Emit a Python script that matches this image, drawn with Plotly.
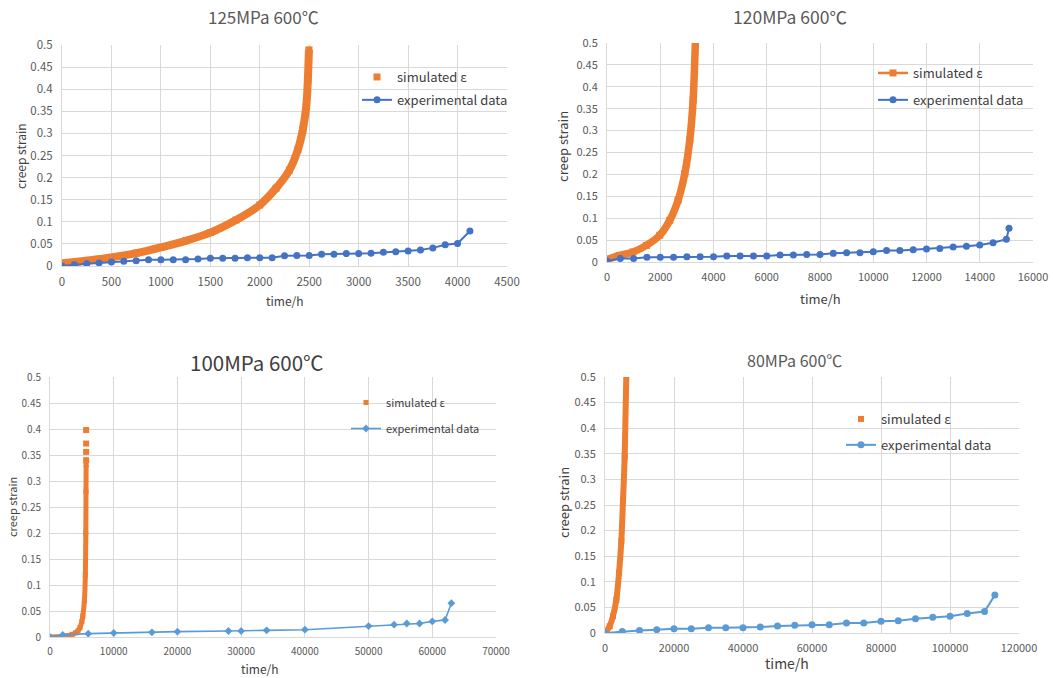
import plotly.graph_objects as go

# ---------------- data ----------------
sim125_t = [0, 243, 500, 750, 1000, 1250, 1500, 1760, 2000, 2165, 2300, 2385, 2435, 2470, 2486, 2497]
sim125_e = [0.006, 0.012, 0.0196, 0.029, 0.042, 0.057, 0.0755, 0.104, 0.138, 0.176, 0.217, 0.263, 0.308, 0.361, 0.42, 0.489]
exp125_t = [0, 125, 250, 375, 500, 625, 750, 875, 1000, 1125, 1250, 1375, 1500, 1625, 1750, 1875, 2000,
            2125, 2250, 2375, 2500, 2625, 2750, 2875, 3000, 3125, 3250, 3375, 3500, 3625, 3750, 3875, 4000, 4125]
exp125_e = [0.0, 0.003, 0.005, 0.007, 0.009, 0.0106, 0.012, 0.0143, 0.0143, 0.0143, 0.0143, 0.0158, 0.0173,
            0.0173, 0.0173, 0.0189, 0.0189, 0.0189, 0.0234, 0.024, 0.024, 0.0264, 0.0264, 0.028, 0.028, 0.029,
            0.031, 0.032, 0.034, 0.036, 0.041, 0.048, 0.051, 0.079]

sim120_t = [0, 476, 978, 1480, 1981, 2357, 2670, 2922, 3110, 3235, 3323]
sim120_e = [0.006, 0.015, 0.023, 0.038, 0.061, 0.095, 0.141, 0.202, 0.279, 0.37, 0.508]
exp120_t = [0, 500, 1000, 1500, 2000, 2500, 3000, 3500, 4000, 4500, 5000, 5500, 6000, 6500, 7000, 7500,
            8000, 8500, 9000, 9500, 10000, 10500, 11000, 11500, 12000, 12500, 13000, 13500, 14000, 14500,
            15000, 15100]
exp120_e = [0.002, 0.008, 0.008, 0.0106, 0.0106, 0.0106, 0.012, 0.012, 0.012, 0.0136, 0.0136, 0.0136, 0.0136,
            0.016, 0.016, 0.0174, 0.0174, 0.0197, 0.021, 0.021, 0.0235, 0.026, 0.026, 0.028, 0.0296, 0.031,
            0.034, 0.036, 0.0387, 0.044, 0.052, 0.077]

sim100_t = [0, 1000, 2000, 2500, 3000, 3500, 4000, 4400, 4700, 5000, 5150, 5400, 5550, 5620, 5650, 5670]
sim100_e = [0.0, 0.0, 0.001, 0.002, 0.003, 0.005, 0.008, 0.012, 0.018, 0.03, 0.04, 0.07, 0.12, 0.2, 0.28, 0.331]
sim100_top_t = [5670, 5670, 5670, 5670]
sim100_top_e = [0.34, 0.356, 0.372, 0.398]
exp100_t = [0, 2000, 6000, 10000, 16000, 20000, 28000, 30000, 34000, 40000, 50000, 54000, 56000, 58000,
            60000, 62000, 63000]
exp100_e = [0.0, 0.004, 0.0064, 0.0077, 0.009, 0.0103, 0.0115, 0.0115, 0.0128, 0.014, 0.021, 0.0237, 0.026,
            0.026, 0.030, 0.0327, 0.065]

sim80_t = [0, 1350, 2320, 3290, 4070, 4740, 5230, 5710, 6200]
sim80_e = [0.0, 0.013, 0.033, 0.065, 0.117, 0.18, 0.26, 0.345, 0.51]
exp80_t = [0, 5000, 10000, 15000, 20000, 25000, 30000, 35000, 40000, 45000, 50000, 55000, 60000, 65000,
           70000, 75000, 80000, 85000, 90000, 95000, 100000, 105000, 110000, 113000]
exp80_e = [0.0, 0.003, 0.005, 0.0065, 0.0085, 0.0085, 0.0104, 0.0104, 0.0104, 0.0117, 0.0137, 0.015, 0.0163,
           0.0163, 0.0195, 0.0195, 0.0228, 0.024, 0.028, 0.031, 0.0326, 0.038, 0.042, 0.074]

titles = ["125MPa 600℃", "120MPa 600℃", "100MPa 600℃", "80MPa 600℃"]
x_ranges = [[0, 4500], [0, 16000], [0, 70000], [0, 120000]]
x_dticks = [500, 2000, 10000, 20000]

ORANGE = "#ED7D31"
BLUE1 = "#4472C4"
BLUE2 = "#5B9BD5"
GRID = "#D9D9D9"
TXT = "#595959"
FONT = "Noto Sans CJK SC, Noto Sans, sans-serif"

W, H = 1053, 678

def px_x(p):
    return p / W

def px_y(p):
    return 1 - p / H

# plot areas in pixels: (left, right, top, bottom)
areas = [(62, 507, 45, 266), (607, 1033, 43, 262), (50, 496, 377, 637), (605, 1019, 377, 633)]
tick_sizes = [11.5, 11, 10, 11]

fig = go.Figure()

panels = [
    (sim125_t, sim125_e, exp125_t, exp125_e, BLUE1, "circle", 8, "markers", 7, 7),
    (sim120_t, sim120_e, exp120_t, exp120_e, BLUE1, "circle", 7.5, "lines+markers", 7, 7),
    (sim100_t, sim100_e, exp100_t, exp100_e, BLUE2, "diamond", 5, "markers", 5, 6),
    (sim80_t, sim80_e, exp80_t, exp80_e, BLUE2, "circle", 6, "markers", 6, 7),
]

for i, (st, se, et, ee, blue, sym, bw, mode, ms, ems) in enumerate(panels):
    n = "" if i == 0 else str(i + 1)
    xa, ya, lg = "x" + n, "y" + n, "legend" + n
    # simulated series (legend entry), drawn under the band
    fig.add_trace(go.Scatter(x=st, y=se, xaxis=xa, yaxis=ya, mode=mode,
                             name="simulated ε", legend=lg, legendgroup="s" + n,
                             marker=dict(symbol="square", size=ms, color=ORANGE),
                             line=dict(color=ORANGE, width=2.5)))
    # thick band formed by the dense simulated points
    fig.add_trace(go.Scatter(x=st, y=se, xaxis=xa, yaxis=ya, mode="lines", showlegend=False,
                             line=dict(color=ORANGE, width=bw, shape="spline", smoothing=0.8),
                             hoverinfo="skip"))
    if i == 2:
        fig.add_trace(go.Scatter(x=sim100_top_t, y=sim100_top_e, xaxis=xa, yaxis=ya, mode="markers",
                                 showlegend=False, marker=dict(symbol="square", size=6, color=ORANGE),
                                 hoverinfo="skip"))
    fig.add_trace(go.Scatter(x=et, y=ee, xaxis=xa, yaxis=ya, mode="lines+markers",
                             name="experimental data", legend=lg, legendgroup="e" + n,
                             marker=dict(symbol=sym, size=ems, color=blue),
                             line=dict(color=blue, width=2 if i != 2 else 1.6)))

layout = dict(template="none", width=W, height=H, margin=dict(l=0, r=0, t=0, b=0, pad=0),
              paper_bgcolor="white", plot_bgcolor="white",
              font=dict(family=FONT, color=TXT), showlegend=True)

for i, (l, r, t, b) in enumerate(areas):
    n = "" if i == 0 else str(i + 1)
    layout["xaxis" + n] = dict(domain=[px_x(l), px_x(r)], anchor="y" + n, range=x_ranges[i],
                               dtick=x_dticks[i], tick0=0, tickformat="d", showgrid=True,
                               gridcolor=GRID, gridwidth=1, zeroline=False, showline=True,
                               linecolor=GRID, linewidth=1, ticks="", ticklabelstandoff=5,
                               automargin=False,
                               tickfont=dict(size=tick_sizes[i], color=TXT, family=FONT))
    layout["yaxis" + n] = dict(domain=[px_y(b), px_y(t)], anchor="x" + n, range=[0, 0.5],
                               dtick=0.05, tick0=0, showgrid=True, gridcolor=GRID, gridwidth=1,
                               zeroline=False, showline=True, linecolor=GRID, linewidth=1,
                               ticks="", ticklabelstandoff=6, automargin=False,
                               tickfont=dict(size=tick_sizes[i], color=TXT, family=FONT))

leg_specs = [(357, 62, 13, 3), (873, 58, 13, 7), (346, 388, 11, 7), (841, 404, 13, 6)]
for i, (lx, ly, fs, gap) in enumerate(leg_specs):
    n = "" if i == 0 else str(i + 1)
    layout["legend" + n] = dict(x=px_x(lx), y=px_y(ly), xanchor="left", yanchor="top",
                                xref="paper", yref="paper", bgcolor="rgba(0,0,0,0)",
                                font=dict(size=fs, color="#404040", family=FONT),
                                tracegroupgap=gap, traceorder="grouped")

ann = []
title_specs = [(263, 17, 17), (790, 16, 17.5), (257, 362, 20.5), (795, 360, 16)]
for i, (cx, cy, fs) in enumerate(title_specs):
    ann.append(dict(text=titles[i], x=px_x(cx), y=px_y(cy), xref="paper", yref="paper",
                    showarrow=False, xanchor="center", yanchor="middle",
                    font=dict(size=fs, color=TXT if i != 2 else "#404040", family=FONT)))

ylab_specs = [(20, 156, 12), (562, 147, 13), (12, 507, 11), (563, 503, 13)]
for (cx, cy, fs) in ylab_specs:
    ann.append(dict(text="creep strain", x=px_x(cx), y=px_y(cy), xref="paper", yref="paper",
                    showarrow=False, xanchor="center", yanchor="middle", textangle=-90,
                    font=dict(size=fs, color="#404040", family=FONT)))

xlab_specs = [(285, 300, 12), (820, 298, 13), (260, 668, 12), (787, 663, 14)]
for (cx, cy, fs) in xlab_specs:
    ann.append(dict(text="time/h", x=px_x(cx), y=px_y(cy), xref="paper", yref="paper",
                    showarrow=False, xanchor="center", yanchor="middle",
                    font=dict(size=fs, color="#404040", family=FONT)))

layout["annotations"] = ann
fig.update_layout(**layout)

fig.write_html("out.html", config={"displayModeBar": False},
               post_script="document.body.style.margin='0';")
